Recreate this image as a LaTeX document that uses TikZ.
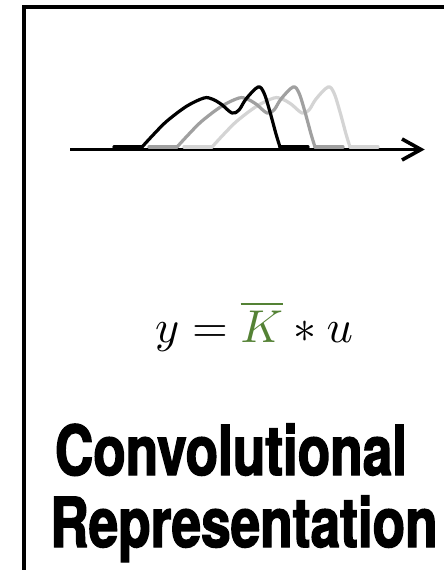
\documentclass[tikz,border=0pt]{standalone}
\usepackage{fontspec}
\newfontfamily\titlefont[FakeStretch=0.77, BoldFeatures={FakeBold=2}]{TeX Gyre Heros}
\definecolor{kgreen}{RGB}{84,130,53}
\definecolor{midgray}{RGB}{160,160,160}
\definecolor{lightgray2}{RGB}{212,212,212}
\tikzset{
  frame/.style={line width=3.6pt},
  axisline/.style={line width=3.6pt},
  pulse/.style={line width=3.2pt, line cap=round, line join=round},
  titletext/.style={anchor=base, inner sep=0, font=\titlefont\bfseries\fontsize{69}{72}\selectfont},
  pulsepic/.pic={
    \draw[pulse] (-28,147) -- (0,147);
    \draw[pulse] plot[smooth, tension=0.55] coordinates {(0,147) (12,134) (25,121) (45,106) (62,98) (70,99) (79,104) (90,113) (97,110) (104,99) (116,87) (122,93) (128,112) (134,134) (138,147)};
    \draw[pulse] (138,147) -- (166,147);
  }
}
\begin{document}
\begin{tikzpicture}[x=1pt,y=-1pt]
\useasboundingbox (0,0) rectangle (444,570);
\fill[white] (0,0) rectangle (444,570);
% frame
\draw[frame] (450,7) -- (24,7) -- (24,590);
% axis
\coordinate (axs) at (70,149.5);
\coordinate (axe) at (421,149.5);
\draw[axisline] (axs) -- (axe);
\draw[axisline, line join=miter] (402,139) -- (axe) -- (402,160);
% pulses
\pic[color=lightgray2] at (212,0) {pulsepic};
\pic[color=midgray] at (177,0) {pulsepic};
\pic[color=black] at (142,0) {pulsepic};
% equation
\node[anchor=base, scale=4.6, inner sep=0] (eq) at (254,342) {$y=\textcolor{kgreen}{\overline{K}}*u$};
% title
\node[titletext] (t1) at (231,475) {Convolutional};
\node[titletext] (t2) at (244,547) {Representation};
\end{tikzpicture}
\end{document}
